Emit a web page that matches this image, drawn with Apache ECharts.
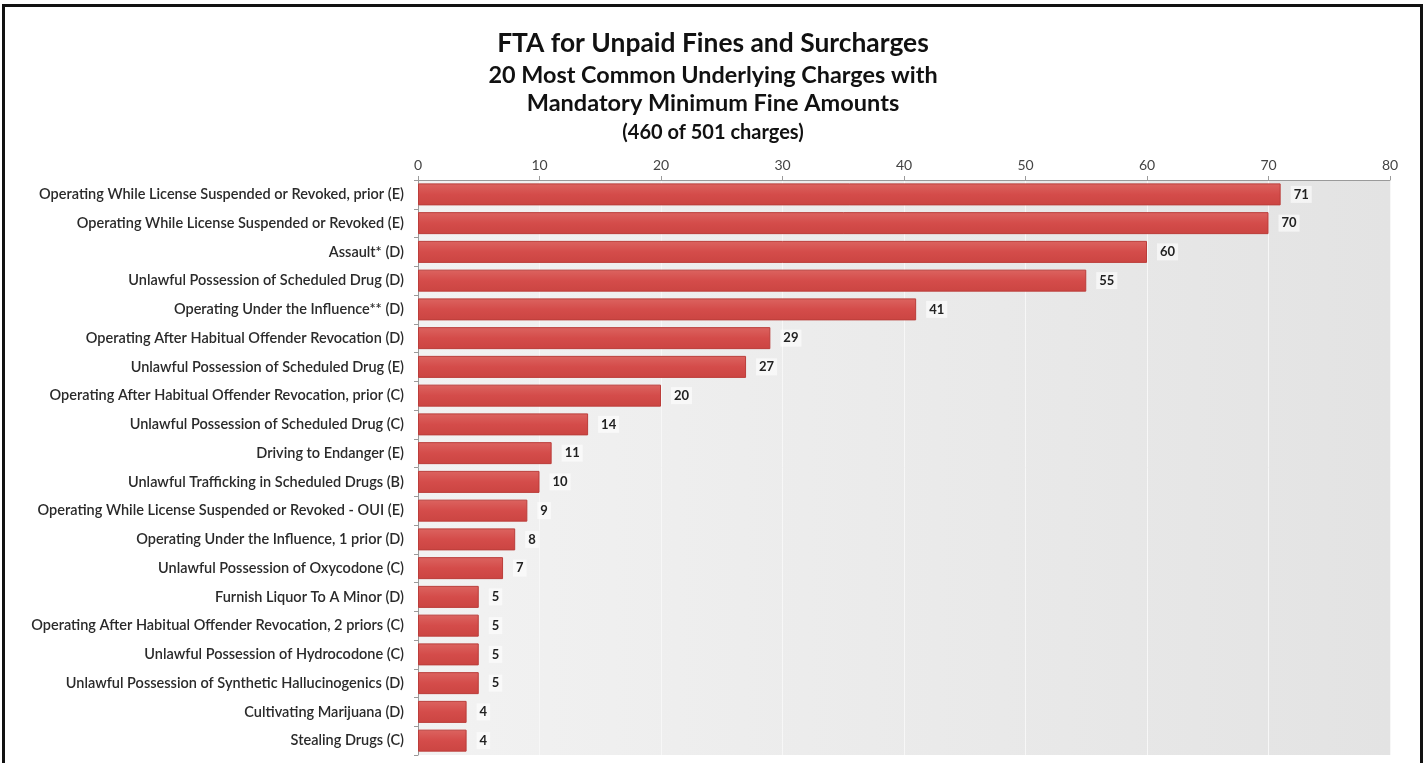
<!DOCTYPE html>
<html>
<head>
<meta charset="utf-8">
<script src="https://cdn.jsdelivr.net/npm/echarts@6/dist/echarts.min.js"></script>
<style>
  html, body { margin: 0; padding: 0; background: #fff; }
  #frame { position: absolute; left: 2px; top: 4px; width: 1421px; height: 770px; border: 3px solid #111; box-sizing: border-box; }
  #chart { position: absolute; left: 0; top: 0; width: 1427px; height: 763px; }
</style>
</head>
<body>
<div id="frame"></div>
<div id="chart"></div>
<script>
  // categories listed top to bottom, as in the picture
  var charges = [
    'Operating While License Suspended or Revoked, prior (E)',
    'Operating While License Suspended or Revoked (E)',
    'Assault* (D)',
    'Unlawful Possession of Scheduled Drug (D)',
    'Operating Under the Influence** (D)',
    'Operating After Habitual Offender Revocation (D)',
    'Unlawful Possession of Scheduled Drug (E)',
    'Operating After Habitual Offender Revocation, prior (C)',
    'Unlawful Possession of Scheduled Drug (C)',
    'Driving to Endanger (E)',
    'Unlawful Trafficking in Scheduled Drugs (B)',
    'Operating While License Suspended or Revoked - OUI (E)',
    'Operating Under the Influence, 1 prior (D)',
    'Unlawful Possession of Oxycodone (C)',
    'Furnish Liquor To A Minor (D)',
    'Operating After Habitual Offender Revocation, 2 priors (C)',
    'Unlawful Possession of Hydrocodone (C)',
    'Unlawful Possession of Synthetic Hallucinogenics (D)',
    'Cultivating Marijuana (D)',
    'Stealing Drugs (C)'
  ];
  var counts = [71, 70, 60, 55, 41, 29, 27, 20, 14, 11, 10, 9, 8, 7, 5, 5, 5, 5, 4, 4];
  var titleLines = [
    'FTA for Unpaid Fines and Surcharges',
    '20 Most Common Underlying Charges with',
    'Mandatory Minimum Fine Amounts',
    '(460 of 501 charges)'
  ];

  var font = 'Lato, "Open Sans", sans-serif';
  var chart = echarts.init(document.getElementById('chart'));

  // title lines drawn as centred text blocks
  function titleText(txt, y, size) {
    return {
      type: 'text', x: 713, y: y,
      style: { text: txt, font: 'bold ' + size + 'px ' + font, fill: '#111', align: 'center', verticalAlign: 'middle' }
    };
  }

  var option = {
    animation: false,
    backgroundColor: 'transparent',
    graphic: [
      titleText(titleLines[0], 43, 26.4),
      titleText(titleLines[1], 75, 23.4),
      titleText(titleLines[2], 103, 23.5),
      titleText(titleLines[3], 133, 20)
    ],
    grid: {
      left: 418,
      right: 37,
      top: 180,
      bottom: 8,
      show: true,
      borderWidth: 0,
      backgroundColor: new echarts.graphic.LinearGradient(0, 0, 1, 0, [
        { offset: 0, color: '#f2f2f2' },
        { offset: 1, color: '#e3e3e3' }
      ])
    },
    xAxis: {
      type: 'value',
      position: 'top',
      min: 0,
      max: 80,
      interval: 10,
      axisLine: { show: true, lineStyle: { color: '#9a9a9a', width: 1 } },
      axisTick: { show: true, length: 4, lineStyle: { color: '#9a9a9a' } },
      axisLabel: { color: '#444', fontSize: 14, fontFamily: font, margin: 8 },
      splitLine: { show: true, lineStyle: { color: '#f7f7f7', width: 1 } }
    },
    yAxis: {
      type: 'category',
      data: charges,
      inverse: true,
      axisLine: { show: true, lineStyle: { color: '#9a9a9a' } },
      axisTick: { show: true, length: 4, lineStyle: { color: '#9a9a9a' } },
      axisLabel: { color: '#2a2a2a', fontSize: 14.5, fontWeight: 600, fontFamily: font, margin: 14 }
    },
    series: [
      {
        type: 'bar',
        data: counts,
        barWidth: 22,
        itemStyle: {
          color: new echarts.graphic.LinearGradient(0, 0, 0, 1, [
            { offset: 0, color: '#dc6460' },
            { offset: 0.5, color: '#d44c4a' },
            { offset: 1, color: '#cb4542' }
          ]),
          borderColor: '#bb3d3a',
          borderWidth: 1
        },
        label: {
          show: true,
          position: 'right',
          distance: 10,
          color: '#222',
          fontSize: 13,
          fontWeight: 'bold',
          fontFamily: font,
          backgroundColor: 'rgba(255,255,255,0.6)',
          padding: [2, 3]
        }
      }
    ]
  };
  chart.setOption(option);
</script>
</body>
</html>
